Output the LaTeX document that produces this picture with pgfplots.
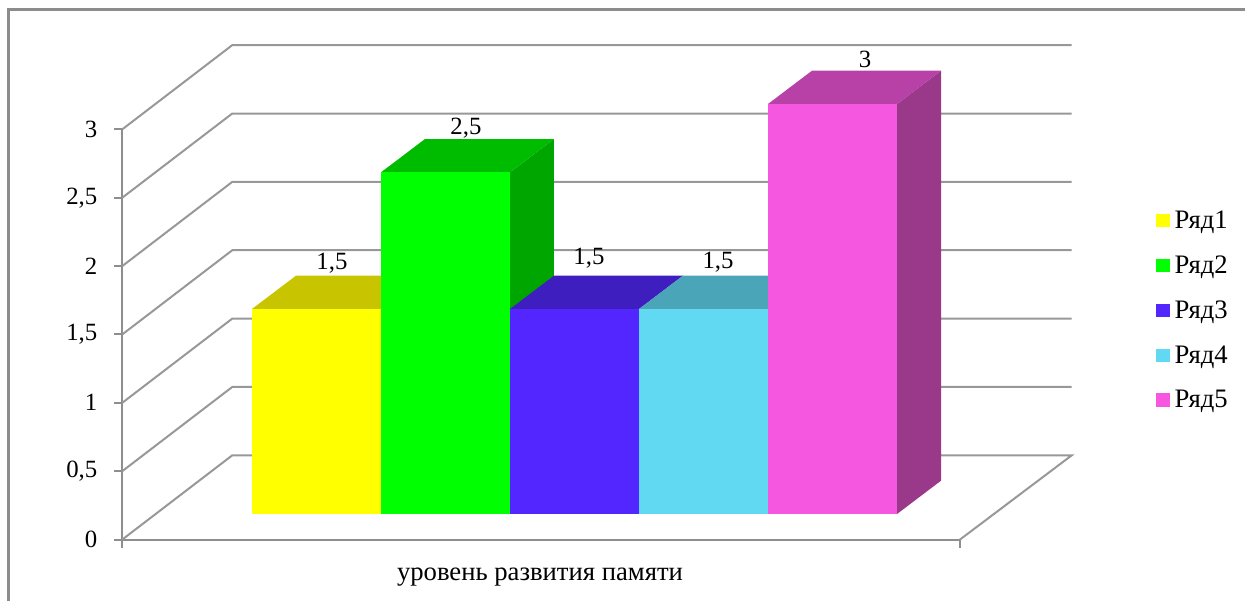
\documentclass[border=0pt]{standalone}
\usepackage{pgfplots}
\pgfplotsset{compat=1.18}
\usepackage{fontspec}
\setmainfont{Liberation Serif}
\definecolor{gridc}{HTML}{989898}
\definecolor{framec}{HTML}{8C8C8C}
\definecolor{axc}{HTML}{8E8E8E}
\definecolor{c1}{HTML}{FFFF00}\definecolor{c1t}{HTML}{C8C400}
\definecolor{c2}{HTML}{00FF00}\definecolor{c2t}{HTML}{00BC00}\definecolor{c2s}{HTML}{00A600}
\definecolor{c3}{HTML}{5426FF}\definecolor{c3t}{HTML}{3E1EBE}
\definecolor{c4}{HTML}{62D9F3}\definecolor{c4t}{HTML}{4BA5B9}
\definecolor{c5}{HTML}{F557E0}\definecolor{c5t}{HTML}{B841A8}\definecolor{c5s}{HTML}{9A3889}
\newcommand{\lbl}{\fontsize{18.6pt}{22pt}\selectfont}
\newcommand{\lblb}{\fontsize{20pt}{24pt}\selectfont}
\pgfplotsset{
  wall/.style={draw=gridc,line width=1.5pt,no marks,forget plot},
  face/.style={draw=none,no marks,forget plot},
  frontbar/.style={ybar,bar shift=0pt,bar width=129,draw=none,
    legend image code/.code={\fill[##1,/tikz/.cd,draw=none] (0pt,-5pt) rectangle (10.5pt,5pt);}},
}
\begin{document}
\begin{tikzpicture}
\useasboundingbox (0,0) rectangle (933.75pt,450.75pt);
\draw[framec,line width=1.8pt] (6.5pt,0pt) -- (6.5pt,443.5pt) -- (933.75pt,443.5pt);
% walls and value axis
\begin{axis}[
  at={(91.7pt,46.1pt)},anchor=south west,scale only axis,
  width=628.3pt,height=307.65pt,
  xmin=122.3,xmax=960,ymin=0,ymax=3,clip=false,
  axis x line=bottom,axis y line=left,
  axis line style={-,draw=axc,line width=1.5pt},
  major tick style={draw=axc,line width=1.5pt},
  tick align=outside,major tick length=6pt,
  xtick={122.3,960},xticklabels={,},
  ytick={0,0.5,1,1.5,2,2.5,3},
  yticklabels={0,{0,5},1,{1,5},2,{2,5},3},
  yticklabel style={font=\lbl,xshift=-9.2pt},
  xlabel={уровень развития памяти},
  xlabel style={font=\lblb,anchor=base,at={(axis cs:540,0)},yshift=-31pt},
]
\addplot[wall] coordinates {(122.3,0)(232.3,0.6158)(1071.7,0.6158)(960,0)};
\addplot[wall] coordinates {(122.3,0.5)(232.3,1.1158)(1071.7,1.1158)};
\addplot[wall] coordinates {(122.3,1)(232.3,1.6158)(1071.7,1.6158)};
\addplot[wall] coordinates {(122.3,1.5)(232.3,2.1158)(1071.7,2.1158)};
\addplot[wall] coordinates {(122.3,2)(232.3,2.6158)(1071.7,2.6158)};
\addplot[wall] coordinates {(122.3,2.5)(232.3,3.1158)(1071.7,3.1158)};
\addplot[wall] coordinates {(122.3,3)(232.3,3.6158)(1071.7,3.6158)};
\end{axis}
% bars: x in picture units, y = value
\begin{axis}[
  at={(91.7pt,65.25pt)},anchor=south west,scale only axis,
  width=628.3pt,height=307.5pt,
  xmin=122.3,xmax=960,ymin=0,ymax=3,clip=false,hide axis,
  legend cell align=left,
  legend style={at={(axis cs:1156,2.22)},anchor=north west,draw=none,fill=none,
    font=\lblb,inner sep=0pt,outer sep=0pt,row sep=19pt,
    /tikz/column 2/.style={column sep=0pt},nodes={inner sep=0pt,outer sep=0pt},
    /tikz/column 1/.style={column sep=3.5pt}},
]
\addplot[face,fill=c1t] coordinates {(252,1.5)(296,1.7437)(425,1.7437)(381,1.5)} --cycle;
\addplot[frontbar,fill=c1] coordinates {(316.5,1.5)};
\addlegendentry{Ряд1}
\addplot[face,fill=c2s] coordinates {(510,0)(554,0.2437)(554,2.7437)(510,2.5)} --cycle;
\addplot[face,fill=c2t] coordinates {(381,2.5)(425,2.7437)(554,2.7437)(510,2.5)} --cycle;
\addplot[frontbar,fill=c2] coordinates {(445.5,2.5)};
\addlegendentry{Ряд2}
\addplot[face,fill=c3t] coordinates {(510,1.5)(554,1.7437)(683,1.7437)(639,1.5)} --cycle;
\addplot[frontbar,fill=c3] coordinates {(574.5,1.5)};
\addlegendentry{Ряд3}
\addplot[face,fill=c4t] coordinates {(639,1.5)(683,1.7437)(812,1.7437)(768,1.5)} --cycle;
\addplot[frontbar,fill=c4] coordinates {(703.5,1.5)};
\addlegendentry{Ряд4}
\addplot[face,fill=c5s] coordinates {(897,0)(941,0.2437)(941,3.2437)(897,3)} --cycle;
\addplot[face,fill=c5t] coordinates {(768,3)(812,3.2437)(941,3.2437)(897,3)} --cycle;
\addplot[frontbar,fill=c5] coordinates {(832.5,3)};
\addlegendentry{Ряд5}
\node[font=\lbl,anchor=base,inner sep=0pt] at (axis cs:332,1.7855) {1,5};
\node[font=\lbl,anchor=base,inner sep=0pt] at (axis cs:466,2.7803) {2,5};
\node[font=\lbl,anchor=base,inner sep=0pt] at (axis cs:589,1.8220) {1,5};
\node[font=\lbl,anchor=base,inner sep=0pt] at (axis cs:718,1.8000) {1,5};
\node[font=\lbl,anchor=base,inner sep=0pt] at (axis cs:865,3.2705) {3};
\end{axis}
\end{tikzpicture}
\end{document}
